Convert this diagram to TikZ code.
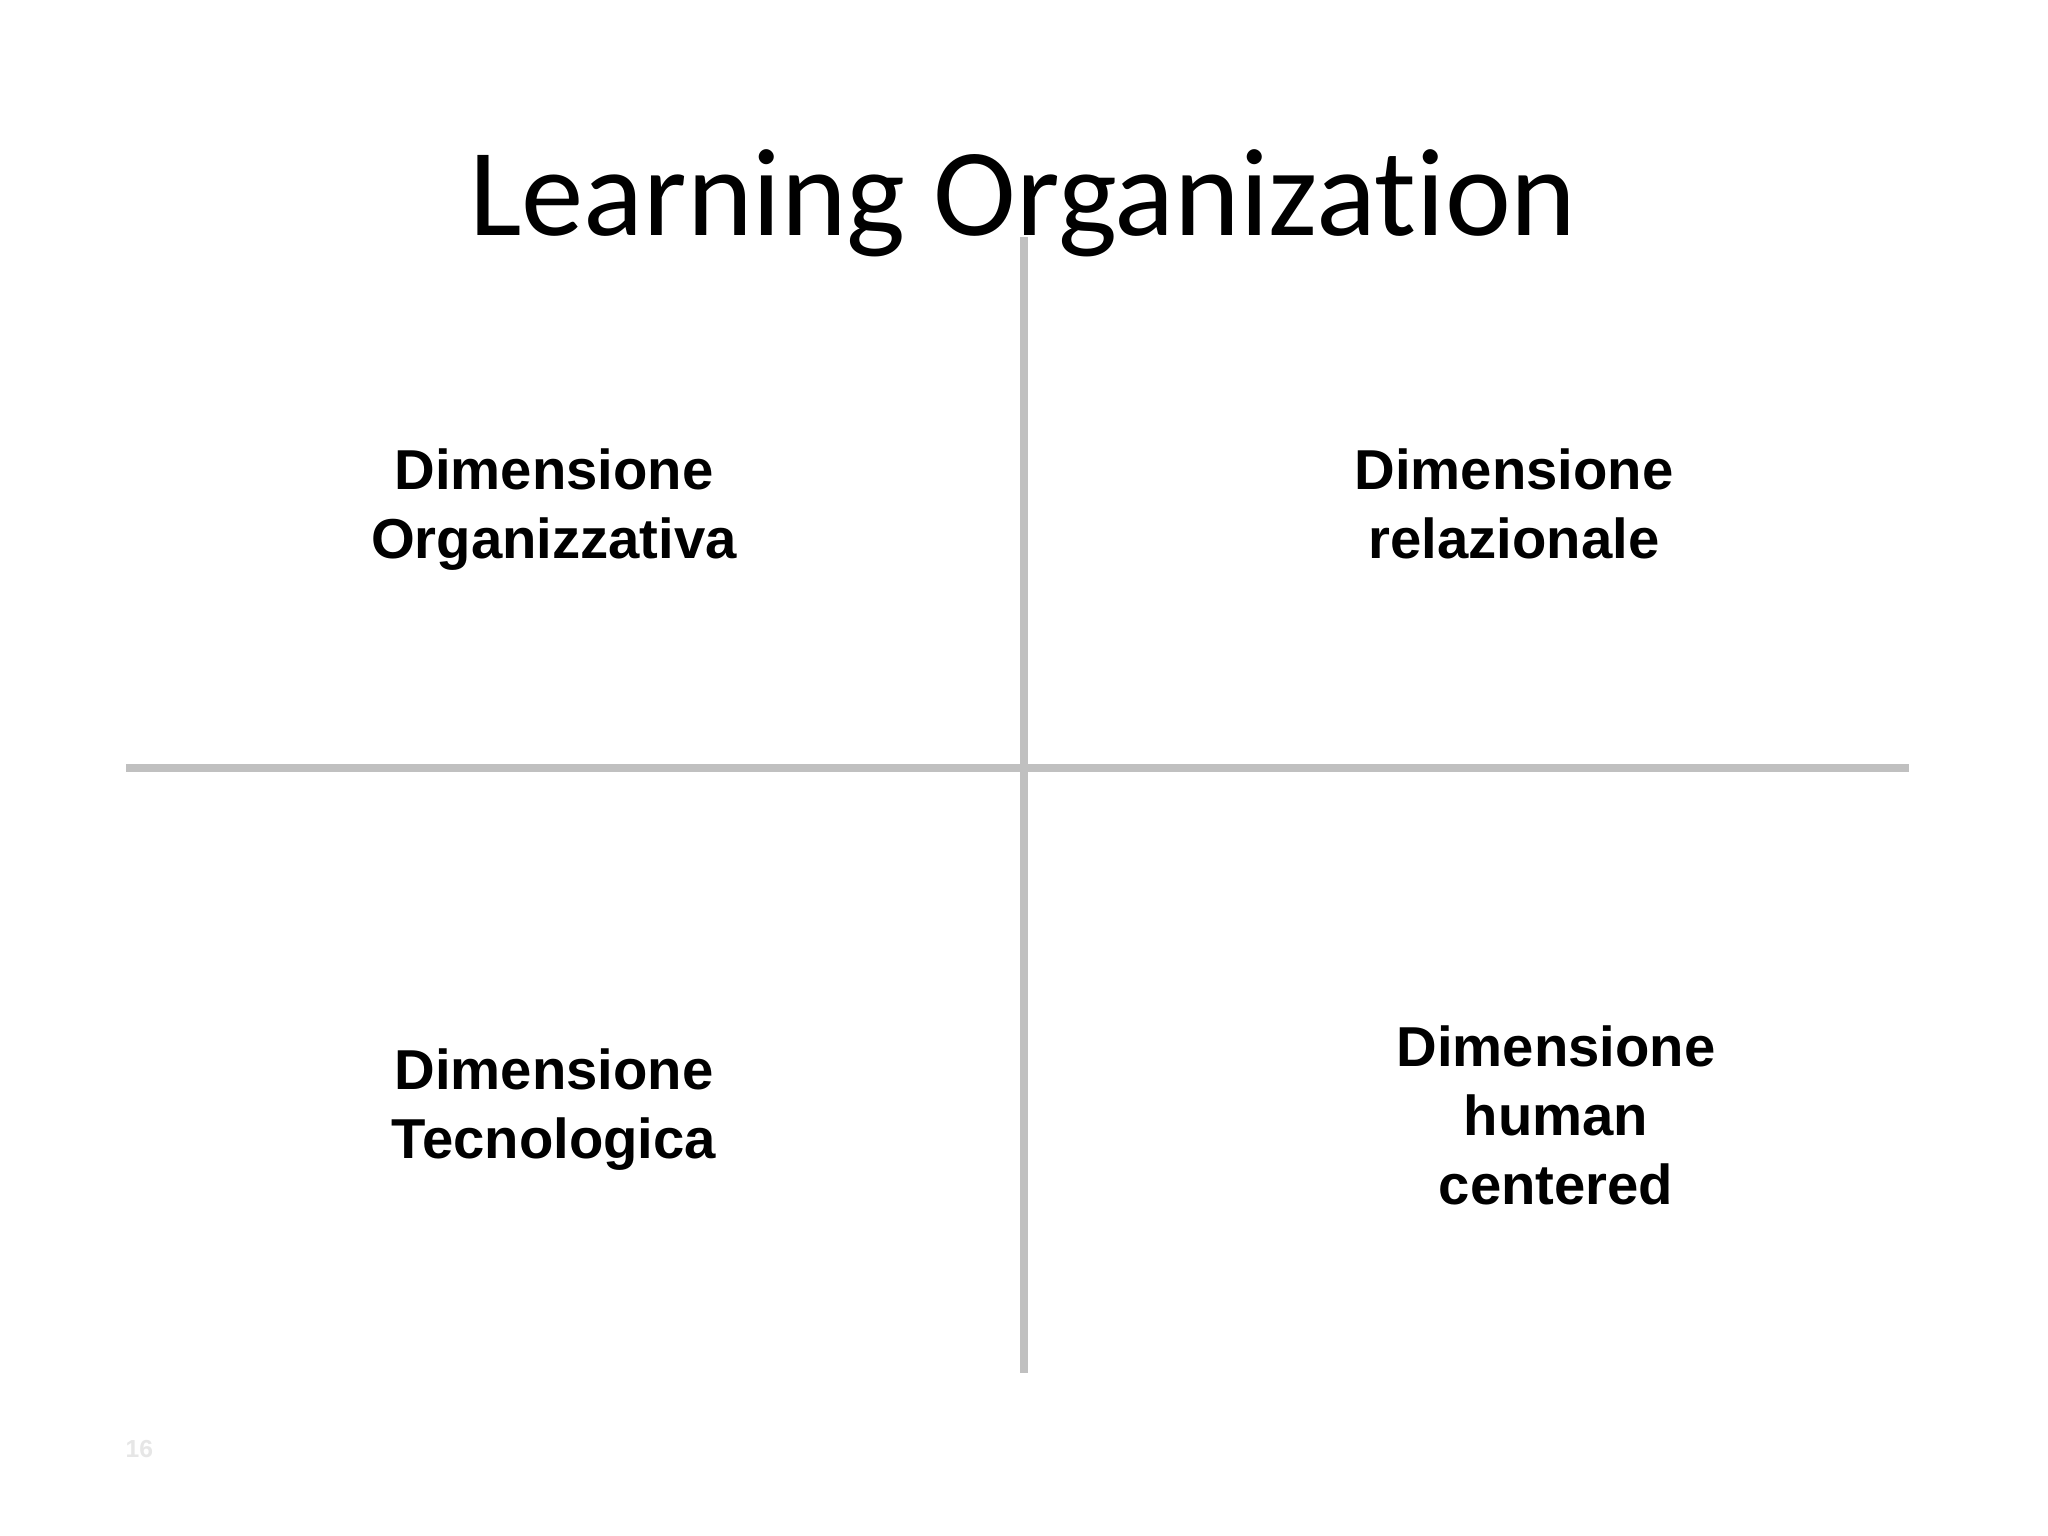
\documentclass[tikz,border=0pt]{standalone}
\usepackage{fontspec}
\setmainfont{Liberation Sans}
\newfontfamily\titlefont[Ligatures={NoCommon,NoRare}]{Carlito}
\usepackage{tikz}
\usetikzlibrary{positioning}
\definecolor{axiscolor}{RGB}{192,192,192}
\definecolor{pagecolor}{RGB}{230,230,230}

\begin{document}
\begin{tikzpicture}[
    x=0.01cm, y=-0.01cm,
    axis/.style={draw=axiscolor, line width=2.3pt},
    dimension/.style={inner sep=0pt, anchor=north, align=center, font=\fontsize{16}{19.6}\selectfont\bfseries},
    title/.style={inner sep=0pt, anchor=base, font=\titlefont\fontsize{35.5}{40}\selectfont}
]
    \fill[white] (0,0) rectangle (2048,1536);
    \useasboundingbox (0,0) rectangle (2048,1536);

    % Title
    \node[title] (title) at (1023,235) {Learning Organization};

    % Axes
    \coordinate (top) at (1024,237);
    \coordinate (bottom) at (1024,1373);
    \coordinate (left) at (126,768);
    \coordinate (right) at (1909,768);
    \draw[axis] (top) -- (bottom);
    \draw[axis] (left) -- (right);

    % Quadrants
    \node[dimension] (organizzativa) at (554,448) {Dimensione\\Organizzativa};
    \node[dimension] (relazionale) at (1514,448) {Dimensione\\relazionale};
    \node[dimension] (tecnologica) at (554,1048) {Dimensione\\Tecnologica};
    \node[dimension] (human) at (1556,1025) {Dimensione\\human\\ centered};

    % Slide number
    \node[inner sep=0pt, anchor=base west, text=pagecolor, font=\fontsize{7}{8}\selectfont\bfseries] (page) at (125,1457) {16};
\end{tikzpicture}
\end{document}
